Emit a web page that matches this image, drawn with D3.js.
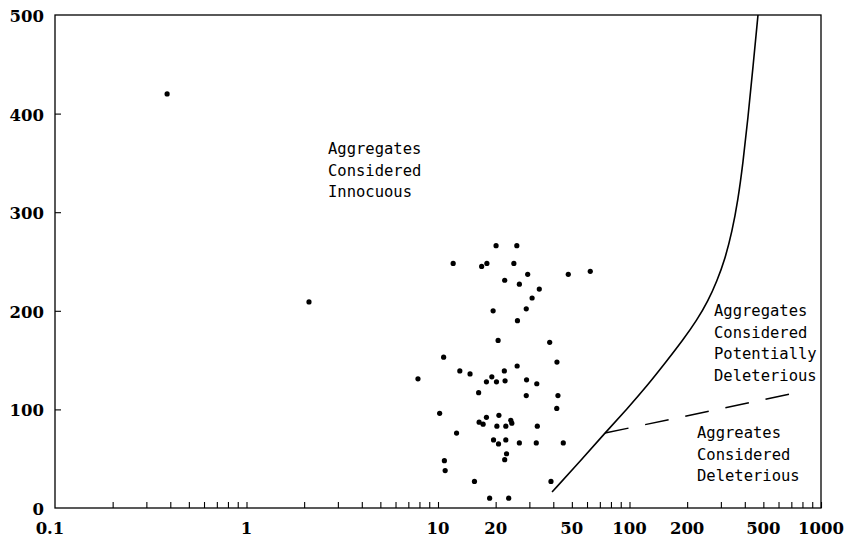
<!DOCTYPE html>
<html>
<head>
<meta charset="utf-8">
<script src="https://cdn.jsdelivr.net/npm/d3@7"></script>
<style>
  html, body { margin: 0; padding: 0; background: #fff; }
  svg { display: block; }
</style>
</head>
<body>
<svg id="chart" width="848" height="545"></svg>
<script>
// ---- data ----
const xTickLabels = [0.1, 1, 10, 20, 50, 100, 200, 500, 1000];
const yTickLabels = [0, 100, 200, 300, 400, 500];

// scatter samples: [x, y]
const sampleX = [0.385, 2.12, 7.86, 10.7, 10.2, 10.8, 10.9,
  20.1, 25.8, 12.0, 18.0, 16.9, 24.9, 29.4, 47.9, 62.4, 22.3, 26.6, 33.8, 31.0, 28.9,
  19.4, 26.0, 20.6, 38.3, 41.8, 25.9, 13.0, 14.7, 22.2, 19.1, 17.9, 20.2, 22.4, 29.0,
  32.8, 16.3, 28.9, 42.3, 41.7, 17.9, 20.8, 16.4, 17.2, 20.3, 22.6, 24.0, 24.3, 33.0,
  12.5, 19.5, 20.7, 22.6, 26.6, 32.6, 45.1, 22.8, 22.3, 15.5, 38.9, 18.6, 23.4];
const sampleY = [420, 209, 131, 153, 96, 48, 38,
  266, 266, 248, 248, 245, 248, 237, 237, 240, 231, 227, 222, 213, 202,
  200, 190, 170, 168, 148, 144, 139, 136, 139, 133, 128, 128, 129, 130,
  126, 117, 114, 114, 101, 92, 94, 87, 85, 83, 83, 89, 86, 83,
  76, 69, 65, 69, 66, 66, 66, 55, 49, 27, 27, 10, 10];

// boundary curve (solid)
const curveX = [39.4, 57.2, 74.5, 97.0, 123.4, 155.1, 190.3, 225.2, 257, 286.3, 315.3, 342.9, 368.7, 391.4, 415.6, 441.4, 468.8];
const curveY = [16.2, 50.7, 76.1, 100.4, 123.7, 148.1, 170.4, 190.7, 209.9, 230.2, 252.5, 279.9, 312.4, 349.9, 395.5, 447.3, 500];

// dashed boundary
const dashX = [74.5, 750];
const dashY = [76, 117];

const labelInnocuous = ["Aggregates", "Considered", "Innocuous"];
const labelPotential = ["Aggregates", "Considered", "Potentially", "Deleterious"];
const labelDeleterious = ["Aggreates", "Considered", "Deleterious"];

// ---- layout ----
const mLeft = 55, mRight = 821, mTop = 15, mBottom = 508;
const svg = d3.select("#chart");

const x = d3.scaleLog().domain([0.1, 1000]).range([mLeft, mRight]);
const y = d3.scaleLinear().domain([0, 500]).range([mBottom, mTop]);

// frame
svg.append("rect")
  .attr("x", mLeft).attr("y", mTop)
  .attr("width", mRight - mLeft).attr("height", mBottom - mTop)
  .attr("fill", "none").attr("stroke", "#000").attr("stroke-width", 1.3);

// x minor/major ticks (inward)
const xTicksAll = [];
for (let d = 0.1; d < 1000; d *= 10) {
  for (let m = 1; m <= 9; m++) xTicksAll.push(+(d * m).toPrecision(3));
}
const xAxis = d3.axisBottom(x)
  .tickValues(xTicksAll.filter(v => v > 0.1 && v < 1000).concat([1000]))
  .tickSize(-6).tickFormat("");
const gx = svg.append("g").attr("transform", `translate(0,${mBottom})`).call(xAxis);
gx.select(".domain").remove();
gx.selectAll("line").attr("stroke", "#000").attr("stroke-width", 1.1);

// x labels
svg.append("g").selectAll("text")
  .data(xTickLabels).join("text")
  .attr("x", d => x(d) - (d === 0.1 ? 5 : 0))
  .attr("y", 534)
  .attr("text-anchor", "middle")
  .attr("font-family", "DejaVu Serif, serif")
  .attr("font-weight", "bold")
  .attr("font-size", 16.5)
  .attr("fill", "#000")
  .text(d => d);

// y ticks (inward)
const yAxis = d3.axisLeft(y).tickValues(yTickLabels.filter(v => v > 0 && v < 500))
  .tickSize(-6).tickFormat("");
const gy = svg.append("g").attr("transform", `translate(${mLeft},0)`).call(yAxis);
gy.select(".domain").remove();
gy.selectAll("line").attr("stroke", "#000").attr("stroke-width", 1.1);

// y labels
svg.append("g").selectAll("text")
  .data(yTickLabels).join("text")
  .attr("x", 44)
  .attr("y", d => y(d))
  .attr("dy", "0.42em")
  .attr("text-anchor", "end")
  .attr("font-family", "DejaVu Serif, serif")
  .attr("font-weight", "bold")
  .attr("font-size", 16.5)
  .attr("fill", "#000")
  .text(d => d);

// solid curve
const curveData = curveX.map((v, i) => [v, curveY[i]]);
svg.append("path")
  .datum(curveData)
  .attr("d", d3.line().x(d => x(d[0])).y(d => y(d[1])).curve(d3.curveBasis))
  .attr("fill", "none").attr("stroke", "#000").attr("stroke-width", 1.6);

// dashed line
const dashData = dashX.map((v, i) => [v, dashY[i]]);
svg.append("path")
  .datum(dashData)
  .attr("d", d3.line().x(d => x(d[0])).y(d => y(d[1])))
  .attr("fill", "none").attr("stroke", "#000").attr("stroke-width", 1.5)
  .attr("stroke-dasharray", "24,17");

// scatter
const pts = sampleX.map((v, i) => [v, sampleY[i]]);
svg.append("g").selectAll("circle")
  .data(pts).join("circle")
  .attr("cx", d => x(d[0]))
  .attr("cy", d => y(d[1]))
  .attr("r", 2.6)
  .attr("fill", "#000");

// region labels
function block(lines, x0, y0) {
  const t = svg.append("text")
    .attr("font-family", "DejaVu Sans Mono, monospace")
    .attr("font-size", 15.5)
    .attr("fill", "#000");
  t.selectAll("tspan").data(lines).join("tspan")
    .attr("x", x0)
    .attr("y", (d, i) => y0 + i * 21.7)
    .text(d => d);
}
block(labelInnocuous, 328, 154);
block(labelPotential, 714, 316);
block(labelDeleterious, 697, 438);
</script>
</body>
</html>
